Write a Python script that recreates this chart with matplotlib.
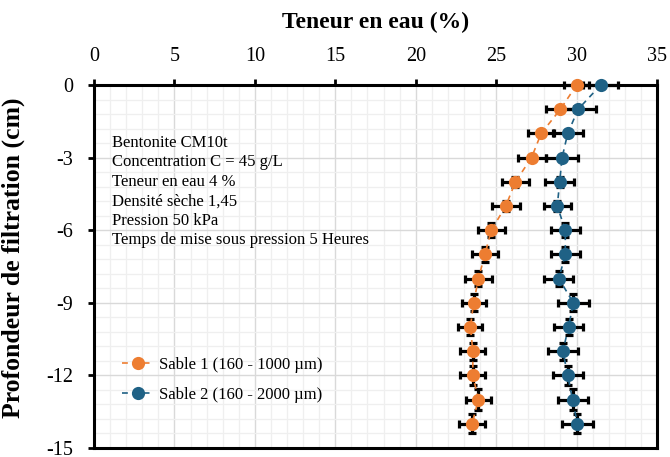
import matplotlib
matplotlib.use("Agg")
import matplotlib.pyplot as plt
import numpy as np
from matplotlib.ticker import MultipleLocator

plt.rcParams['font.family'] = ['Liberation Serif', 'DejaVu Serif']
plt.rcParams['axes.unicode_minus'] = False

# profondeur (cm)
depth = [0, -1, -2, -3, -4, -5, -6, -7, -8, -9, -10, -11, -12, -13, -14]

# teneur en eau (%) - sable 1
sable1 = [30.0, 29.0, 27.8, 27.2, 26.2, 25.6, 24.7, 24.3, 23.9, 23.6, 23.4, 23.55, 23.55, 23.9, 23.5]
sable1_xerr = [0.8, 0.87, 0.8, 0.87, 0.85, 0.87, 0.84, 0.8, 0.84, 0.75, 0.75, 0.78, 0.78, 0.8, 0.78]
sable1_yerr = [0.0, 0.0, 0.0, 0.0, 0.2, 0.2, 0.3, 0.3, 0.3, 0.35, 0.35, 0.35, 0.4, 0.42, 0.4]

# teneur en eau (%) - sable 2
sable2 = [31.5, 30.1, 29.45, 29.1, 28.95, 28.8, 29.3, 29.3, 28.9, 29.8, 29.5, 29.15, 29.45, 29.75, 30.05]
sable2_xerr = [1.1, 1.1, 0.93, 1.0, 0.9, 0.84, 0.9, 0.9, 0.9, 0.96, 0.9, 0.93, 0.93, 0.93, 0.96]
sable2_yerr = [0.0, 0.0, 0.0, 0.0, 0.2, 0.2, 0.3, 0.3, 0.3, 0.35, 0.35, 0.35, 0.4, 0.42, 0.4]

labels = ['Sable 1 (160 - 1000 µm)', 'Sable 2 (160 - 2000 µm)']
colors = ['#ED7D31', '#1F6185']

info = ("Bentonite CM10t\n"
        "Concentration C = 45 g/L\n"
        "Teneur en eau 4 %\n"
        "Densité sèche 1,45\n"
        "Pression 50 kPa\n"
        "Temps de mise sous pression 5 Heures")

fig = plt.figure(figsize=(6.7, 4.57), dpi=100)
ax = fig.add_axes([94/670, 1-448/457, (657-94)/670, (448-85)/457])

series = [(sable1, sable1_xerr, sable1_yerr), (sable2, sable2_xerr, sable2_yerr)]
for (x, xe, ye), lab, c in zip(series, labels, colors):
    ax.errorbar(x, depth, xerr=xe, yerr=ye, fmt='none', ecolor='black',
                elinewidth=2.3, capsize=2.8, capthick=2.3, zorder=3, clip_on=False)
    ax.plot(x, depth, linestyle=(0, (3.5, 3)), lw=1.2, color=c, marker='o',
            markersize=9.5, markeredgewidth=0, label=lab, zorder=4, clip_on=False)

ax.set_xlim(0, 35)
ax.set_ylim(-15, 0)
ax.xaxis.set_major_locator(MultipleLocator(5))
ax.xaxis.set_minor_locator(MultipleLocator(1))
ax.yaxis.set_major_locator(MultipleLocator(3))
ax.yaxis.set_minor_locator(MultipleLocator(0.6))
ax.grid(which='major', color='#d9d9d9', lw=1.0, zorder=0)
ax.grid(which='minor', color='#efefef', lw=0.9, zorder=0)
ax.set_axisbelow(True)

ax.xaxis.tick_top()
ax.xaxis.set_label_position('top')
ax.tick_params(which='major', direction='out', length=4, width=2, labelsize=14.5)
ax.tick_params(axis='x', which='major', pad=10)
ax.tick_params(axis='y', which='major', pad=11)
ax.tick_params(which='minor', length=0)
for sp in ax.spines.values():
    sp.set_linewidth(2.2)

ax.set_xlabel('Teneur en eau (%)', fontsize=17, fontweight='bold', labelpad=13)
ax.set_ylabel('Profondeur de filtration (cm)', fontsize=18.5, fontweight='bold')
ax.yaxis.set_label_coords(-0.123, 0.525)

ax.text(0.032, 0.862, info, transform=ax.transAxes, fontsize=12, va='top',
        ha='left', linespacing=1.28)

ax.legend(loc='upper left', bbox_to_anchor=(0.035, 0.275), frameon=False, fontsize=12,
          handlelength=1.9, handletextpad=0.3, labelspacing=0.85, borderpad=0)

fig.savefig('out.png', dpi=100)
